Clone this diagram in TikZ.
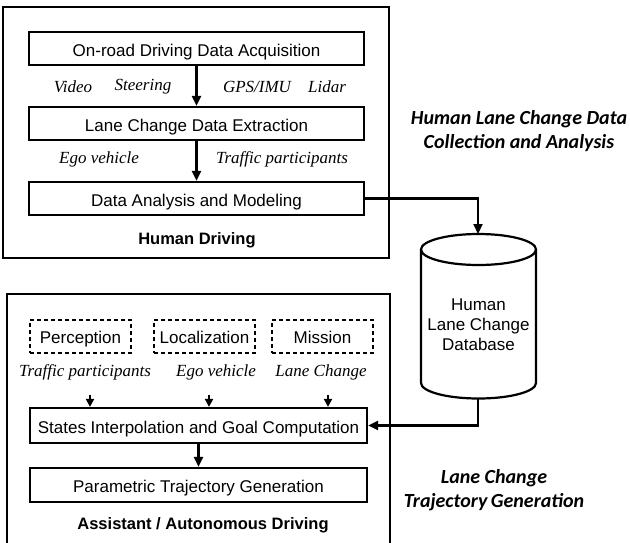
\documentclass[tikz,border=0pt]{standalone}
\usepackage{fontspec}
\setmainfont{Liberation Serif}
\newfontfamily\arialf{Liberation Sans}
\newfontfamily\calibf{Carlito}
\usetikzlibrary{arrows.meta}
\begin{document}
\begin{tikzpicture}[x=1pt,y=-1pt,
  box/.style={draw, line width=2.2pt, minimum width=335pt, minimum height=33pt, inner sep=0pt, text height=15pt, text depth=0pt, font=\arialf\fontsize{17}{20}\selectfont},
  dbox/.style={draw, line width=1.6pt, dash pattern=on 4pt off 3pt, minimum width=101pt, minimum height=33pt, inner sep=0pt, text height=14pt, text depth=0pt, font=\arialf\fontsize{17}{20}\selectfont},
  outer/.style={draw, line width=2.2pt},
  lab/.style={font=\itshape\fontsize{17}{20}\selectfont, inner sep=0pt},
  blab/.style={font=\arialf\bfseries\fontsize{16.5}{20}\selectfont, inner sep=0pt},
  ttl/.style={font=\calibf\bfseries\itshape\fontsize{20}{24}\selectfont, inner sep=0pt, align=center},
  arr/.style={line width=2.2pt, -{Triangle[length=10pt,width=9pt]}},
  sarr/.style={line width=2pt, -{Triangle[length=8pt,width=8pt]}},
  conn/.style={line width=2.2pt}
]
\useasboundingbox (0,0) rectangle (630,542);
% top group
\draw[outer] (3,7) rectangle (389,258);
\node[box] (acq) at (196.5,48.5) {On-road Driving Data Acquisition};
\node[box] (lce) at (196.5,123.5) {Lane Change Data Extraction};
\node[box] (dam) at (196.5,198.5) {Data Analysis and Modeling};
\node[blab] (hd) at (197,240) {Human Driving};
\node[lab] (l1) at (73,87) {Video};
\node[lab] (l2) at (143,87) {Steering};
\node[lab] (l3) at (257,87) {GPS/IMU};
\node[lab] (l4) at (327,87) {Lidar};
\node[lab] (l5) at (99,159) {Ego vehicle};
\node[lab] (l6) at (282,159) {Traffic participants};
\draw[arr] (acq.south) -- (lce.north);
\draw[arr] (lce.south) -- (dam.north);
% titles
\node[ttl] (t1) at (519,131) {Human Lane Change Data\\Collection and Analysis};
\node[ttl] (t2) at (494,490) {Lane Change\\Trajectory\,Generation};
% database
\draw[line width=2.2pt] (478.5,249.5) ellipse[x radius=57.5pt, y radius=15.5pt];
\draw[line width=2.2pt] (421,249.5) -- (421,383) arc[start angle=180, end angle=360, x radius=57.5pt, y radius=15.5pt] -- (536,249.5);
\node[font=\arialf\fontsize{17}{20}\selectfont, align=center, inner sep=0pt] (db) at (478.5,325) {Human\\Lane Change\\Database};
\coordinate (dbtop) at (478,234);
\coordinate (dbbot) at (478,398.5);
% bottom group
\draw[outer] (7,294) rectangle (390,560);
\node[dbox] (per) at (80.5,336.5) {Perception};
\node[dbox] (loc) at (204.5,336.5) {Localization};
\node[dbox] (mis) at (322.5,336.5) {Mission};
\node[lab] (m1) at (85,372) {Traffic participants};
\node[lab] (m2) at (216,372) {Ego vehicle};
\node[lab] (m3) at (321,372) {Lane Change};
\node[box, minimum width=337pt, minimum height=35pt] (si) at (198.5,425.5) {States Interpolation and Goal Computation};
\node[box, minimum width=337pt, minimum height=34pt] (pt) at (198.5,485) {Parametric Trajectory Generation};
\node[blab] (ad) at (203,525) {Assistant / Autonomous Driving};
\coordinate (a1) at (90,395);
\coordinate (a2) at (209,395);
\coordinate (a3) at (328,395);
\draw[sarr] (a1) -- (a1 |- si.north);
\draw[sarr] (a2) -- (a2 |- si.north);
\draw[sarr] (a3) -- (a3 |- si.north);
\draw[arr] (si.south) -- (pt.north);
% connectors
\draw[arr] (dam.east) -| (dbtop);
\draw[arr] (dbbot) |- (si.east);
\end{tikzpicture}
\end{document}
